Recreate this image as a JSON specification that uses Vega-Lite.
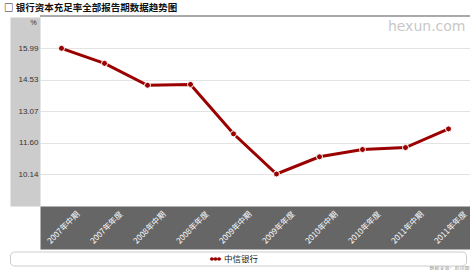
{
  "$schema": "https://vega.github.io/schema/vega-lite/v6.json",
  "autosize": {"type": "none"},
  "width": 430,
  "height": 189,
  "padding": {"left": 40, "top": 17, "right": 0, "bottom": 64},
  "background": "#ffffff",
  "title": {
    "text": "□ 银行资本充足率全部报告期数据趋势图",
    "anchor": "start",
    "frame": "group",
    "dx": -36,
    "offset": 3,
    "font": "Noto Sans CJK SC",
    "fontSize": 9.5,
    "fontWeight": "bold",
    "color": "#111111"
  },
  "data": {
    "values": [
      {"period": "2007年中期", "value": 15.99, "series": "中信银行"},
      {"period": "2007年年度", "value": 15.29, "series": "中信银行"},
      {"period": "2008年中期", "value": 14.27, "series": "中信银行"},
      {"period": "2008年年度", "value": 14.31, "series": "中信银行"},
      {"period": "2009年中期", "value": 12.01, "series": "中信银行"},
      {"period": "2009年年度", "value": 10.14, "series": "中信银行"},
      {"period": "2010年中期", "value": 10.94, "series": "中信银行"},
      {"period": "2010年年度", "value": 11.28, "series": "中信银行"},
      {"period": "2011年中期", "value": 11.37, "series": "中信银行"},
      {"period": "2011年年度", "value": 12.24, "series": "中信银行"}
    ]
  },
  "layer": [
    {
      "mark": {"type": "line", "strokeWidth": 3},
      "encoding": {
        "x": {
          "field": "period", "type": "nominal", "sort": null,
          "scale": {"paddingInner": 0, "paddingOuter": 0},
          "axis": {
            "orient": "bottom",
            "title": null,
            "offset": 21.5,
            "domain": true,
            "domainColor": "#666666", "domainWidth": 43, "domainCap": "butt",
            "ticks": false, "labels": false, "grid": false, "zindex": 0
          }
        },
        "y": {
          "field": "value", "type": "quantitative",
          "scale": {"domain": [8.651, 17.447], "nice": false, "zero": false},
          "axis": {
            "orient": "left",
            "values": [10.14, 11.6, 13.07, 14.53, 15.99],
            "offset": 15,
            "domain": true,
            "domainColor": "#cccccc", "domainWidth": 30, "domainCap": "butt",
            "ticks": false, "labels": false,
            "grid": true, "gridColor": "#e3e3e3", "gridWidth": 1,
            "zindex": 0,
            "title": "hexun.com", "titleAngle": 0, "titleX": 440, "titleY": 13,
            "titleAlign": "right", "titleBaseline": "alphabetic", "titleAnchor": null,
            "titleFont": "DejaVu Sans", "titleFontSize": 14, "titleFontWeight": "normal", "titleColor": "#c8c8c8"
          }
        },
        "color": {
          "field": "series", "type": "nominal",
          "scale": {"range": ["#9b0000"]},
          "legend": {
            "orient": "none",
            "legendX": -30, "legendY": 234.5,
            "direction": "horizontal",
            "title": " ",
            "titleOrient": "right",
            "titlePadding": 206,
            "titleFont": "Noto Sans CJK SC", "titleFontSize": 8.5,
            "padding": 2,
            "strokeColor": "#cccccc", "fillColor": "#ffffff", "cornerRadius": 4,
            "symbolType": "M-1,-0.15H1V0.15H-1Z M-1,0A0.3,0.3 0 1,1 -0.4,0A0.3,0.3 0 1,1 -1,0Z M-0.3,0A0.3,0.3 0 1,1 0.3,0A0.3,0.3 0 1,1 -0.3,0Z M0.4,0A0.3,0.3 0 1,1 1,0A0.3,0.3 0 1,1 0.4,0Z",
            "symbolSize": 110,
            "symbolOffset": 198,
            "labelFont": "Noto Sans CJK SC", "labelFontSize": 8.5, "labelColor": "#222222",
            "labelOffset": 3, "labelLimit": 500,
            "encode": {
              "symbols": {
                "update": {
                  "fill": {"value": "#9b0000"},
                  "stroke": {"value": "#9b0000"},
                  "strokeWidth": {"value": 0.3},
                  "opacity": {"value": 1}
                }
              }
            }
          }
        }
      }
    },
    {
      "mark": {"type": "point", "filled": true, "size": 36, "stroke": "#ffffff", "strokeWidth": 1, "strokeOpacity": 1, "opacity": 1},
      "encoding": {
        "x": {
          "field": "period", "type": "nominal", "sort": null,
          "axis": {
            "orient": "bottom",
            "title": "数据来源：和讯网",
            "titleX": 429, "titleY": 42,
            "titleAlign": "right", "titleBaseline": "alphabetic", "titleAnchor": null,
            "titleFont": "Noto Sans CJK SC", "titleFontSize": 5, "titleFontWeight": "normal", "titleColor": "#999999",
            "offset": 21.5,
            "domain": false,
            "ticks": false, "tickSize": 0, "grid": false,
            "labelAngle": -45, "labelAlign": "center", "labelBaseline": "middle",
            "labelPadding": 0, "labelOffset": 2,
            "labelColor": "#ffffff", "labelFont": "Noto Sans CJK SC", "labelFontSize": 8,
            "labelOverlap": false, "labelBound": false, "labelFlush": false,
            "zindex": 1
          }
        },
        "y": {
          "field": "value", "type": "quantitative",
          "axis": {
            "orient": "left",
            "values": [10.14, 11.6, 13.07, 14.53, 15.99],
            "format": ".2f",
            "offset": 15,
            "domain": false,
            "ticks": false, "tickSize": 0, "grid": false,
            "labelPadding": -13, "labelAlign": "right", "labelBaseline": "middle",
            "labelFont": "Liberation Sans", "labelFontSize": 8, "labelColor": "#333333",
            "labelOverlap": false, "labelBound": false, "labelFlush": false,
            "title": "%", "titleAngle": 0, "titleX": 8, "titleY": 5,
            "titleAlign": "center", "titleBaseline": "middle", "titleAnchor": null,
            "titleFont": "Liberation Sans", "titleFontSize": 7, "titleFontWeight": "normal", "titleColor": "#333333",
            "zindex": 1
          }
        },
        "color": {"field": "series", "type": "nominal"}
      }
    },
    {
      "mark": {"type": "rule", "color": "#aaaaaa", "strokeWidth": 2, "clip": false},
      "encoding": {
        "y": {"datum": 17.49, "type": "quantitative", "axis": null}
      }
    }
  ],
  "resolve": {"axis": {"x": "independent", "y": "independent"}},
  "config": {
    "view": {"stroke": null}
  }
}
